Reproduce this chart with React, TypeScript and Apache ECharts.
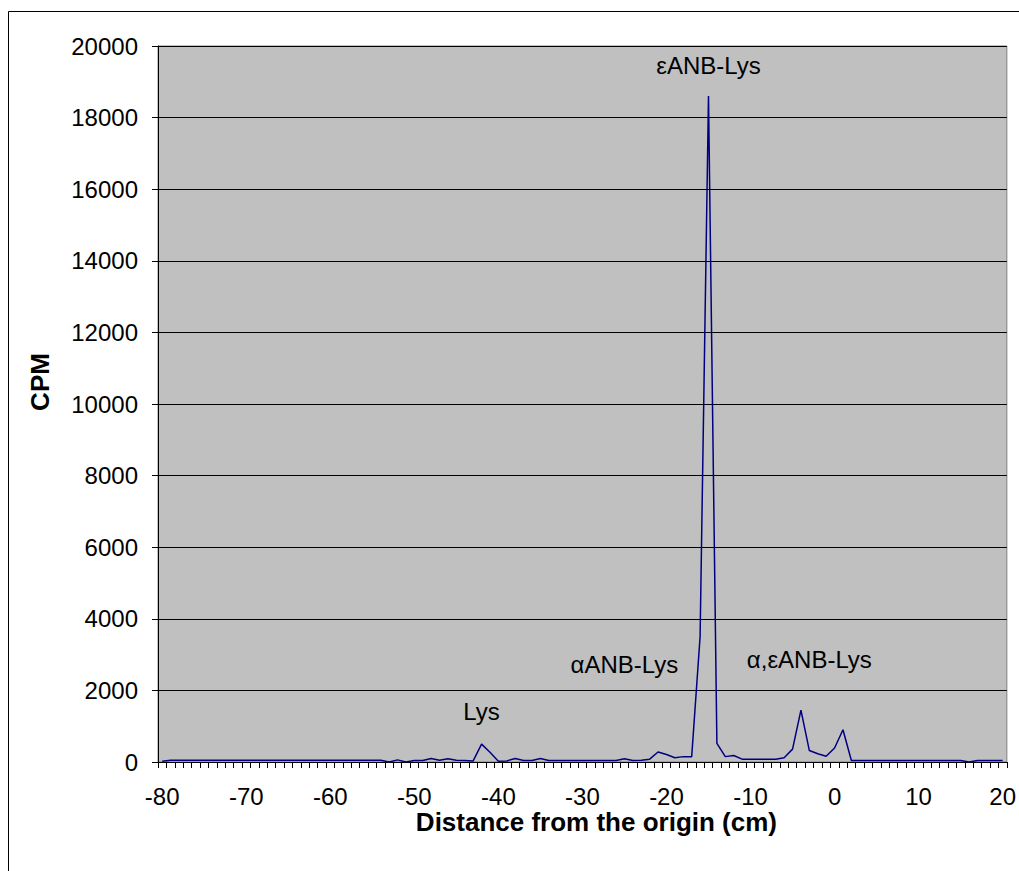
import React, { useEffect, useRef } from 'react';
import * as echarts from 'echarts';

// Distance from the origin (cm): categories -80 .. 20
const distances: string[] = Array.from({ length: 101 }, (_, i) => String(i - 80));

// CPM, one value per distance category
const cpm: number[] = [
  20, 50, 50, 50, 50, 50, 50, 50, 50, 50, // -80 .. -71
  50, 50, 50, 50, 50, 50, 50, 50, 50, 50, // -70 .. -61
  50, 50, 50, 50, 50, 50, 50, 0, 60, 0, // -60 .. -51
  40, 40, 100, 50, 90, 50, 40, 30, 500, 270, // -50 .. -41
  20, 30, 100, 40, 40, 100, 40, 40, 40, 40, // -40 .. -31
  40, 40, 40, 40, 40, 90, 40, 50, 80, 280, // -30 .. -21
  210, 120, 150, 150, 3500, 18600, 520, 150, 180, 80, // -20 .. -11
  80, 80, 80, 80, 120, 360, 1450, 320, 230, 160, // -10 .. -1
  390, 900, 40, 40, 40, 40, 40, 40, 40, 40, // 0 .. 9
  40, 40, 40, 40, 40, 40, 0, 40, 40, 40, // 10 .. 19
  40, // 20
];

const yMin = 0;
const yMax = 20000;
const yInterval = 2000;

// Peak annotations (distance, CPM position of the label centre)
const annotationTexts = ['εANB-Lys', 'αANB-Lys', 'α,εANB-Lys', 'Lys'];
const annotationDistance = [-15, -25, -3.4, -42.2];
const annotationCpm = [19450, 2710, 2850, 1400];

const FONT = '"Liberation Sans", Arial, sans-serif';

export default function App() {
  const ref = useRef<HTMLDivElement>(null);

  useEffect(() => {
    const chart = echarts.init(ref.current!, null, { renderer: 'svg' });
    chart.setOption({
      animation: false,
      backgroundColor: '#ffffff',
      grid: {
        left: 158,
        top: 46,
        width: 849,
        height: 716,
        show: true,
        backgroundColor: '#C0C0C0',
        borderColor: '#808080',
        borderWidth: 1,
      },
      xAxis: {
        type: 'category',
        data: distances,
        boundaryGap: true,
        name: 'Distance from the origin (cm)',
        nameLocation: 'middle',
        nameGap: 47,
        nameMoveOverlap: false,
        nameTextStyle: {
          fontFamily: FONT,
          fontSize: 26,
          fontWeight: 'bold',
          color: '#000',
          padding: [0, 0, 0, 28],
        },
        axisLine: { lineStyle: { color: '#000', width: 1 } },
        axisTick: { show: true, interval: 0, length: 6, lineStyle: { color: '#000' } },
        axisLabel: { interval: 9, fontFamily: FONT, fontSize: 24, color: '#000', margin: 22 },
        splitLine: { show: false },
      },
      yAxis: {
        type: 'value',
        min: yMin,
        max: yMax,
        interval: yInterval,
        name: 'CPM',
        nameLocation: 'middle',
        nameRotate: 90,
        nameGap: 105,
        nameMoveOverlap: false,
        nameTextStyle: {
          fontFamily: FONT,
          fontSize: 26,
          fontWeight: 'bold',
          color: '#000',
          padding: [0, 0, 0, 44],
        },
        axisLine: { show: true, lineStyle: { color: '#000', width: 1 } },
        axisTick: { show: true, length: 6, lineStyle: { color: '#000' } },
        axisLabel: {
          fontFamily: FONT,
          fontSize: 24,
          color: '#000',
          margin: 20,
          formatter: (v: number) => String(v),
        },
        splitLine: { show: true, lineStyle: { color: '#000', width: 1 } },
      },
      series: [
        {
          type: 'line',
          data: cpm,
          symbol: 'none',
          lineStyle: { color: '#000080', width: 1.5 },
          itemStyle: { color: '#000080' },
        },
      ],
    });

    const texts = annotationTexts.map((t, i) => {
      const p = chart.convertToPixel({ gridIndex: 0 }, [annotationDistance[i] + 80, annotationCpm[i]]) as number[];
      return {
        type: 'text',
        x: p[0],
        y: p[1],
        style: {
          text: t,
          fontFamily: FONT,
          fontSize: 24,
          fill: '#000',
          align: 'center',
          verticalAlign: 'middle',
          textAlign: 'center',
          textVerticalAlign: 'middle',
        },
      };
    });

    chart.setOption({
      graphic: [
        {
          type: 'rect',
          shape: { x: 8.5, y: 11.5, width: 1100, height: 1000 },
          style: { fill: 'none', stroke: '#000', lineWidth: 1 },
          silent: true,
        },
        ...texts,
      ],
    });

    return () => chart.dispose();
  }, []);

  return (
    <div
      ref={ref}
      style={{ position: 'absolute', left: 0, top: 0, width: 1019, height: 871, overflow: 'hidden' }}
    />
  );
}
